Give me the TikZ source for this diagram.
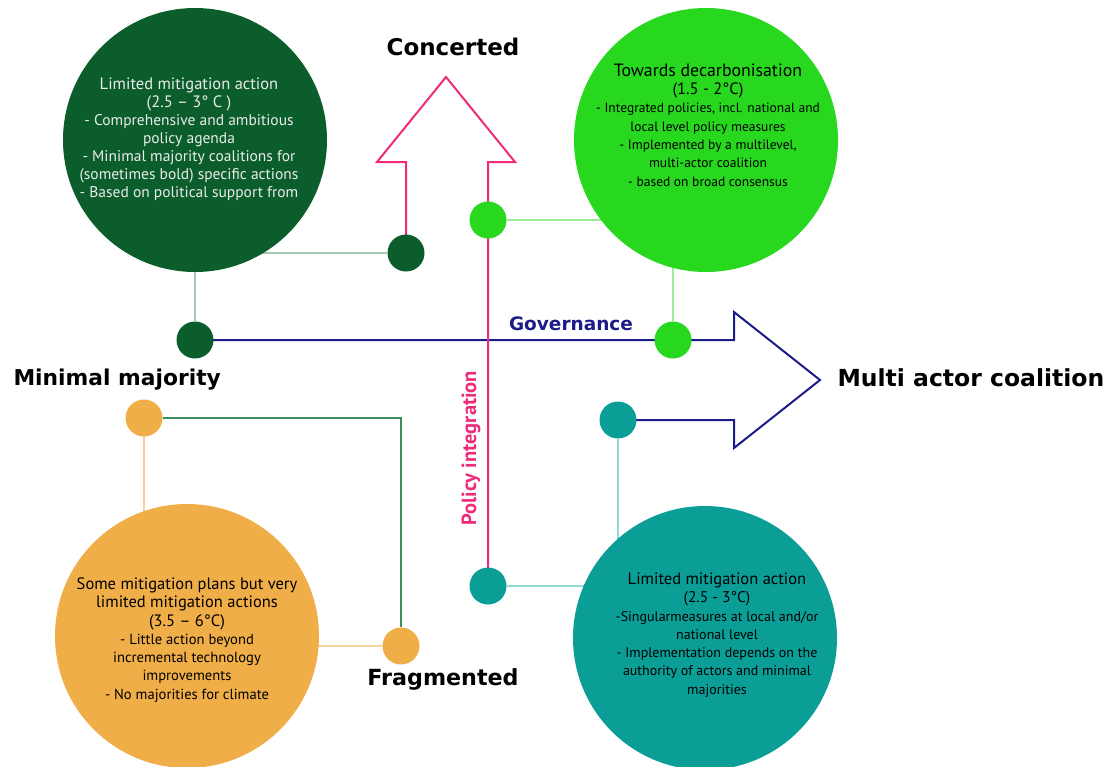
\documentclass[tikz,border=0pt]{standalone}
\usepackage{fontspec}
\setmainfont{PT Sans}
\newfontfamily\headfont{DejaVu Sans}
\usepackage{tikz}
\usetikzlibrary{backgrounds}

\definecolor{darkgreen}{HTML}{0B5E2B}
\definecolor{brightgreen}{HTML}{27D81F}
\definecolor{orangefill}{HTML}{F0AE48}
\definecolor{tealfill}{HTML}{0A9E96}
\definecolor{pinkaxis}{HTML}{EE2A7B}
\definecolor{navyaxis}{HTML}{1B1B8A}
\definecolor{darkgreenlink}{HTML}{A5C8AE}
\definecolor{brightgreenlink}{HTML}{9DEB98}
\definecolor{teallink}{HTML}{93D9D5}
\definecolor{orangelink}{HTML}{F7D39E}
\definecolor{greenlink}{HTML}{3E8F5E}

\begin{document}
\begin{tikzpicture}[x=1pt,y=-1pt,
    bigcirc/.style={circle,minimum size=264pt,inner sep=0pt},
    dot/.style={circle,minimum size=37pt,inner sep=0pt},
    link/.style={line width=1.4pt},
    axis/.style={line width=2pt,line join=miter},
    bodytext/.style={align=center,font=\fontsize{15.5}{18}\selectfont},
    heading/.style={font=\headfont\bfseries\fontsize{22.5}{26}\selectfont}]

\useasboundingbox (0,0) rectangle (1111,766);

% the four scenarios
\node[bigcirc,fill=darkgreen] (mitA) at (195,140) {};
\node[bigcirc,fill=brightgreen] (decarb) at (706,140) {};
\node[bigcirc,fill=orangefill] (plans) at (187,636) {};
\node[bigcirc,fill=tealfill] (mitB) at (705,638) {};

\node[bodytext,text=white!92!black] (mitAtext) at ([shift={(-6,-1)}]mitA.center)
  {{\fontsize{16.5}{18}\selectfont Limited mitigation action}\\{\fontsize{16.5}{18}\selectfont (2.5 -- 3° C )}\\- Comprehensive and ambitious\\policy agenda\\- Minimal majority coalitions for\\(sometimes bold) specific actions\\- Based on political support from};
\node[bodytext,font=\fontsize{13.5}{18.3}\selectfont] (decarbtext) at ([shift={(2,-15)}]decarb.center)
  {{\fontsize{17.8}{18.3}\selectfont Towards decarbonisation}\\{\fontsize{16.5}{18.3}\selectfont (1.5 - 2°C)}\\- Integrated policies, incl. national and\\local level policy measures\\- Implemented by a multilevel,\\multi-actor coalition\\- based on broad consensus};
\node[bodytext,font=\fontsize{14.6}{18.3}\selectfont] (planstext) at ([shift={(0,4)}]plans.center)
  {{\fontsize{16.5}{18.3}\selectfont Some mitigation plans but very}\\{\fontsize{16.5}{18.3}\selectfont limited mitigation actions}\\{\fontsize{16.5}{18.3}\selectfont (3.5 -- 6°C)}\\- Little action beyond\\incremental technology\\improvements\\- No majorities for climate};
\node[bodytext,font=\fontsize{14}{18.3}\selectfont] (mitBtext) at ([shift={(12,-3)}]mitB.center)
  {{\fontsize{16.5}{18.3}\selectfont Limited mitigation action}\\{\fontsize{15.5}{18.3}\selectfont (2.5 - 3°C)}\\-Singularmeasures at local and/or\\national level\\- Implementation depends on the\\authority of actors and minimal\\majorities};

% dots on the axes
\node[dot,fill=darkgreen] (mitAdotP) at (406,253) {};
\node[dot,fill=darkgreen] (mitAdotG) at (195,340) {};
\node[dot,fill=brightgreen] (decarbdotP) at (488,220) {};
\node[dot,fill=brightgreen] (decarbdotG) at (673,340) {};
\node[dot,fill=orangefill] (plansdotG) at (144,418) {};
\node[dot,fill=orangefill] (plansdotP) at (401,646) {};
\node[dot,fill=tealfill] (mitBdotG) at (618,420) {};
\node[dot,fill=tealfill] (mitBdotP) at (488,586) {};

% arrow corners
\coordinate (upL) at (406,162);
\coordinate (upLw) at (377,162);
\coordinate (upTip) at (446,77);
\coordinate (upRw) at (515,162);
\coordinate (upR) at (488,162);
\coordinate (rtT) at (734,340);
\coordinate (rtTw) at (734,312);
\coordinate (rtTip) at (820,380);
\coordinate (rtBw) at (734,448);
\coordinate (rtB) at (734,420);

\begin{scope}[on background layer]
  \draw[link,darkgreenlink] (mitAdotP) -- (mitAdotP -| mitA.center);
  \draw[link,darkgreenlink] (mitAdotG) -- (mitA.center);
  \draw[link,brightgreenlink] (decarbdotP) -- (decarbdotP -| decarb.center);
  \draw[link,brightgreenlink] (decarbdotG) -- (decarbdotG |- decarb.center);
  \draw[link,orangelink] (plansdotG) -- (plansdotG |- plans.center);
  \draw[link,orangelink] (plansdotP) -- (plansdotP -| plans.center);
  \draw[link,greenlink] (plansdotG) -| (plansdotP);
  \draw[link,teallink] (mitBdotG) -- (mitBdotG |- mitB.center);
  \draw[link,teallink] (mitBdotP) -- (mitBdotP -| mitB.center);
  \draw[axis,navyaxis] (mitAdotG.center) -- (rtT) -- (rtTw) -- (rtTip) -- (rtBw) -- (rtB) -- (mitBdotG.center);
  \draw[axis,pinkaxis] (mitAdotP.center) -- (upL) -- (upLw) -- (upTip) -- (upRw) -- (upR) -- (mitBdotP.center);
\end{scope}

% axis labels
\node[heading,font=\headfont\bfseries\fontsize{23}{26}\selectfont] (concerted) at (453,47) {Concerted};
\node[heading,anchor=west,font=\headfont\bfseries\fontsize{21.8}{26}\selectfont] (minimal) at (10,380) {Minimal majority};
\node[heading,anchor=west,font=\headfont\bfseries\fontsize{23.5}{26}\selectfont] (multi) at (834,378) {Multi actor coalition};
\node[heading,font=\headfont\bfseries\fontsize{22.2}{26}\selectfont] (fragmented) at (443,679) {Fragmented};
\node[font=\headfont\bfseries\fontsize{18.5}{20}\selectfont,text=navyaxis] (governance) at (571,324) {Governance};
\node[font=\bfseries\fontsize{20.5}{22}\selectfont,text=pinkaxis,rotate=90] (policy) at (471,448) {Policy integration};
\end{tikzpicture}
\end{document}
